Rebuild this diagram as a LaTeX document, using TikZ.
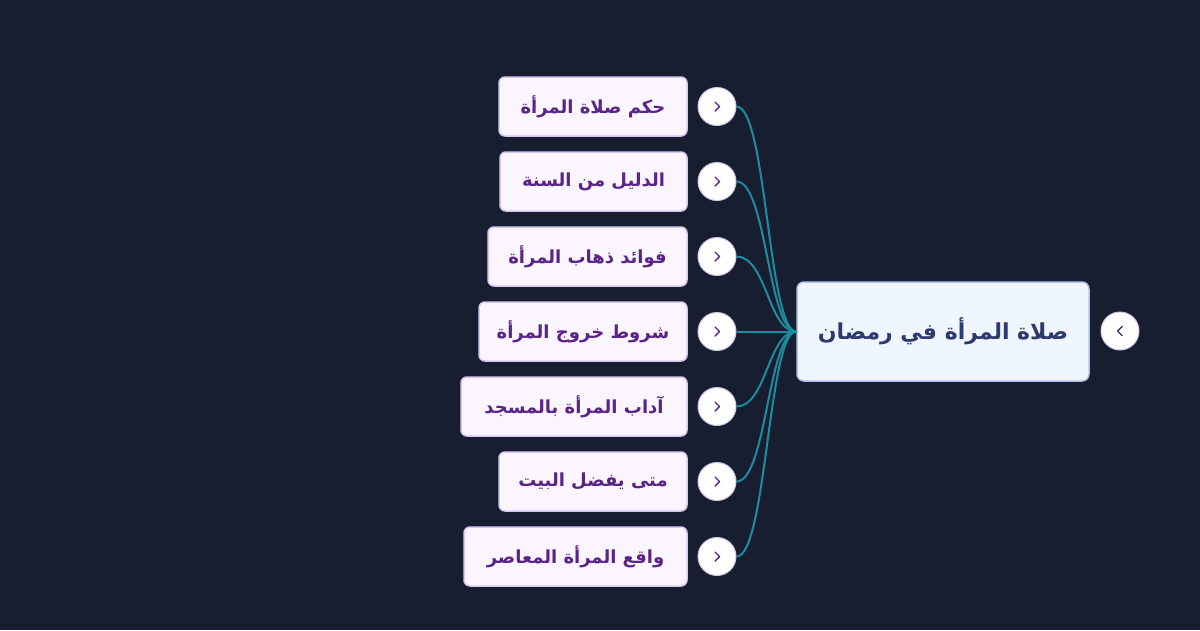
\documentclass[tikz,border=0pt]{standalone}
\usepackage{fontspec}
\TeXXeTstate=1
\newfontfamily\arabicfont[Script=Arabic]{DejaVu Sans}
\definecolor{bg}{HTML}{161E30}
\definecolor{kidfill}{HTML}{FAF5FF}
\definecolor{kidline}{HTML}{D9C6F5}
\definecolor{kidtext}{HTML}{5A2387}
\definecolor{rootfill}{HTML}{EFF6FF}
\definecolor{rootline}{HTML}{B3C2EC}
\definecolor{roottext}{HTML}{2C3A6E}
\definecolor{link}{HTML}{1E8CA0}
\definecolor{knobline}{HTML}{CFC3EA}
\tikzset{
  kid/.style={draw=kidline, line width=1.5pt, fill=kidfill, rounded corners=6pt,
    minimum height=59pt, inner sep=0pt, text=kidtext,
    font=\arabicfont\bfseries\fontsize{18}{21}\selectfont},
  rootbox/.style={draw=rootline, line width=1.5pt, fill=rootfill, rounded corners=7pt,
    minimum height=99pt, minimum width=292pt, inner sep=0pt, text=roottext,
    font=\arabicfont\bfseries\fontsize{22}{26}\selectfont},
  knob/.style={circle, draw=knobline, line width=1pt, fill=white, minimum size=38pt, inner sep=0pt},
  chev/.style={line width=1.4pt, line cap=round, line join=round},
  linkline/.style={draw=link, line width=2pt}
}
\begin{document}
\begin{tikzpicture}[x=1pt,y=-1pt]
\fill[bg] (0,0) rectangle (1200,630);
\useasboundingbox (0,0) rectangle (1200,630);
% root
\node[rootbox] (root) at (943,331.5) {\beginR صلاة المرأة في رمضان\endR};
\node[knob] (rk) at (1120,331) {};
\draw[chev, roottext] ([shift={(2,-4.5)}]rk.center) -- ([shift={(-2.5,0)}]rk.center) -- ([shift={(2,4.5)}]rk.center);
% children
\foreach \i/\xl/\y/\t in {
  1/499/106.5/{حكم صلاة المرأة},
  2/500/181.5/{الدليل من السنة},
  3/488/256.5/{فوائد ذهاب المرأة},
  4/479/331.5/{شروط خروج المرأة},
  5/461/406.5/{آداب المرأة بالمسجد},
  6/499/481.5/{متى يفضل البيت},
  7/464/556.5/{واقع المرأة المعاصر}}{
  \pgfmathsetmacro\w{687-\xl}
  \pgfmathsetmacro\cx{(687+\xl)/2}
  \node[kid, minimum width=\w pt] (k\i) at (\cx,\y) {\raisebox{2pt}{\beginR\t\endR}};
  \node[knob] (c\i) at (717,\y) {};
  \draw[chev, kidtext] ([shift={(-2,-4.5)}]c\i.center) -- ([shift={(2.5,0)}]c\i.center) -- ([shift={(-2,4.5)}]c\i.center);
  \draw[linkline] (c\i.east) .. controls ([xshift=30pt]c\i.east) and ([xshift=-28pt]root.west) .. (root.west);
}
\end{tikzpicture}
\end{document}
